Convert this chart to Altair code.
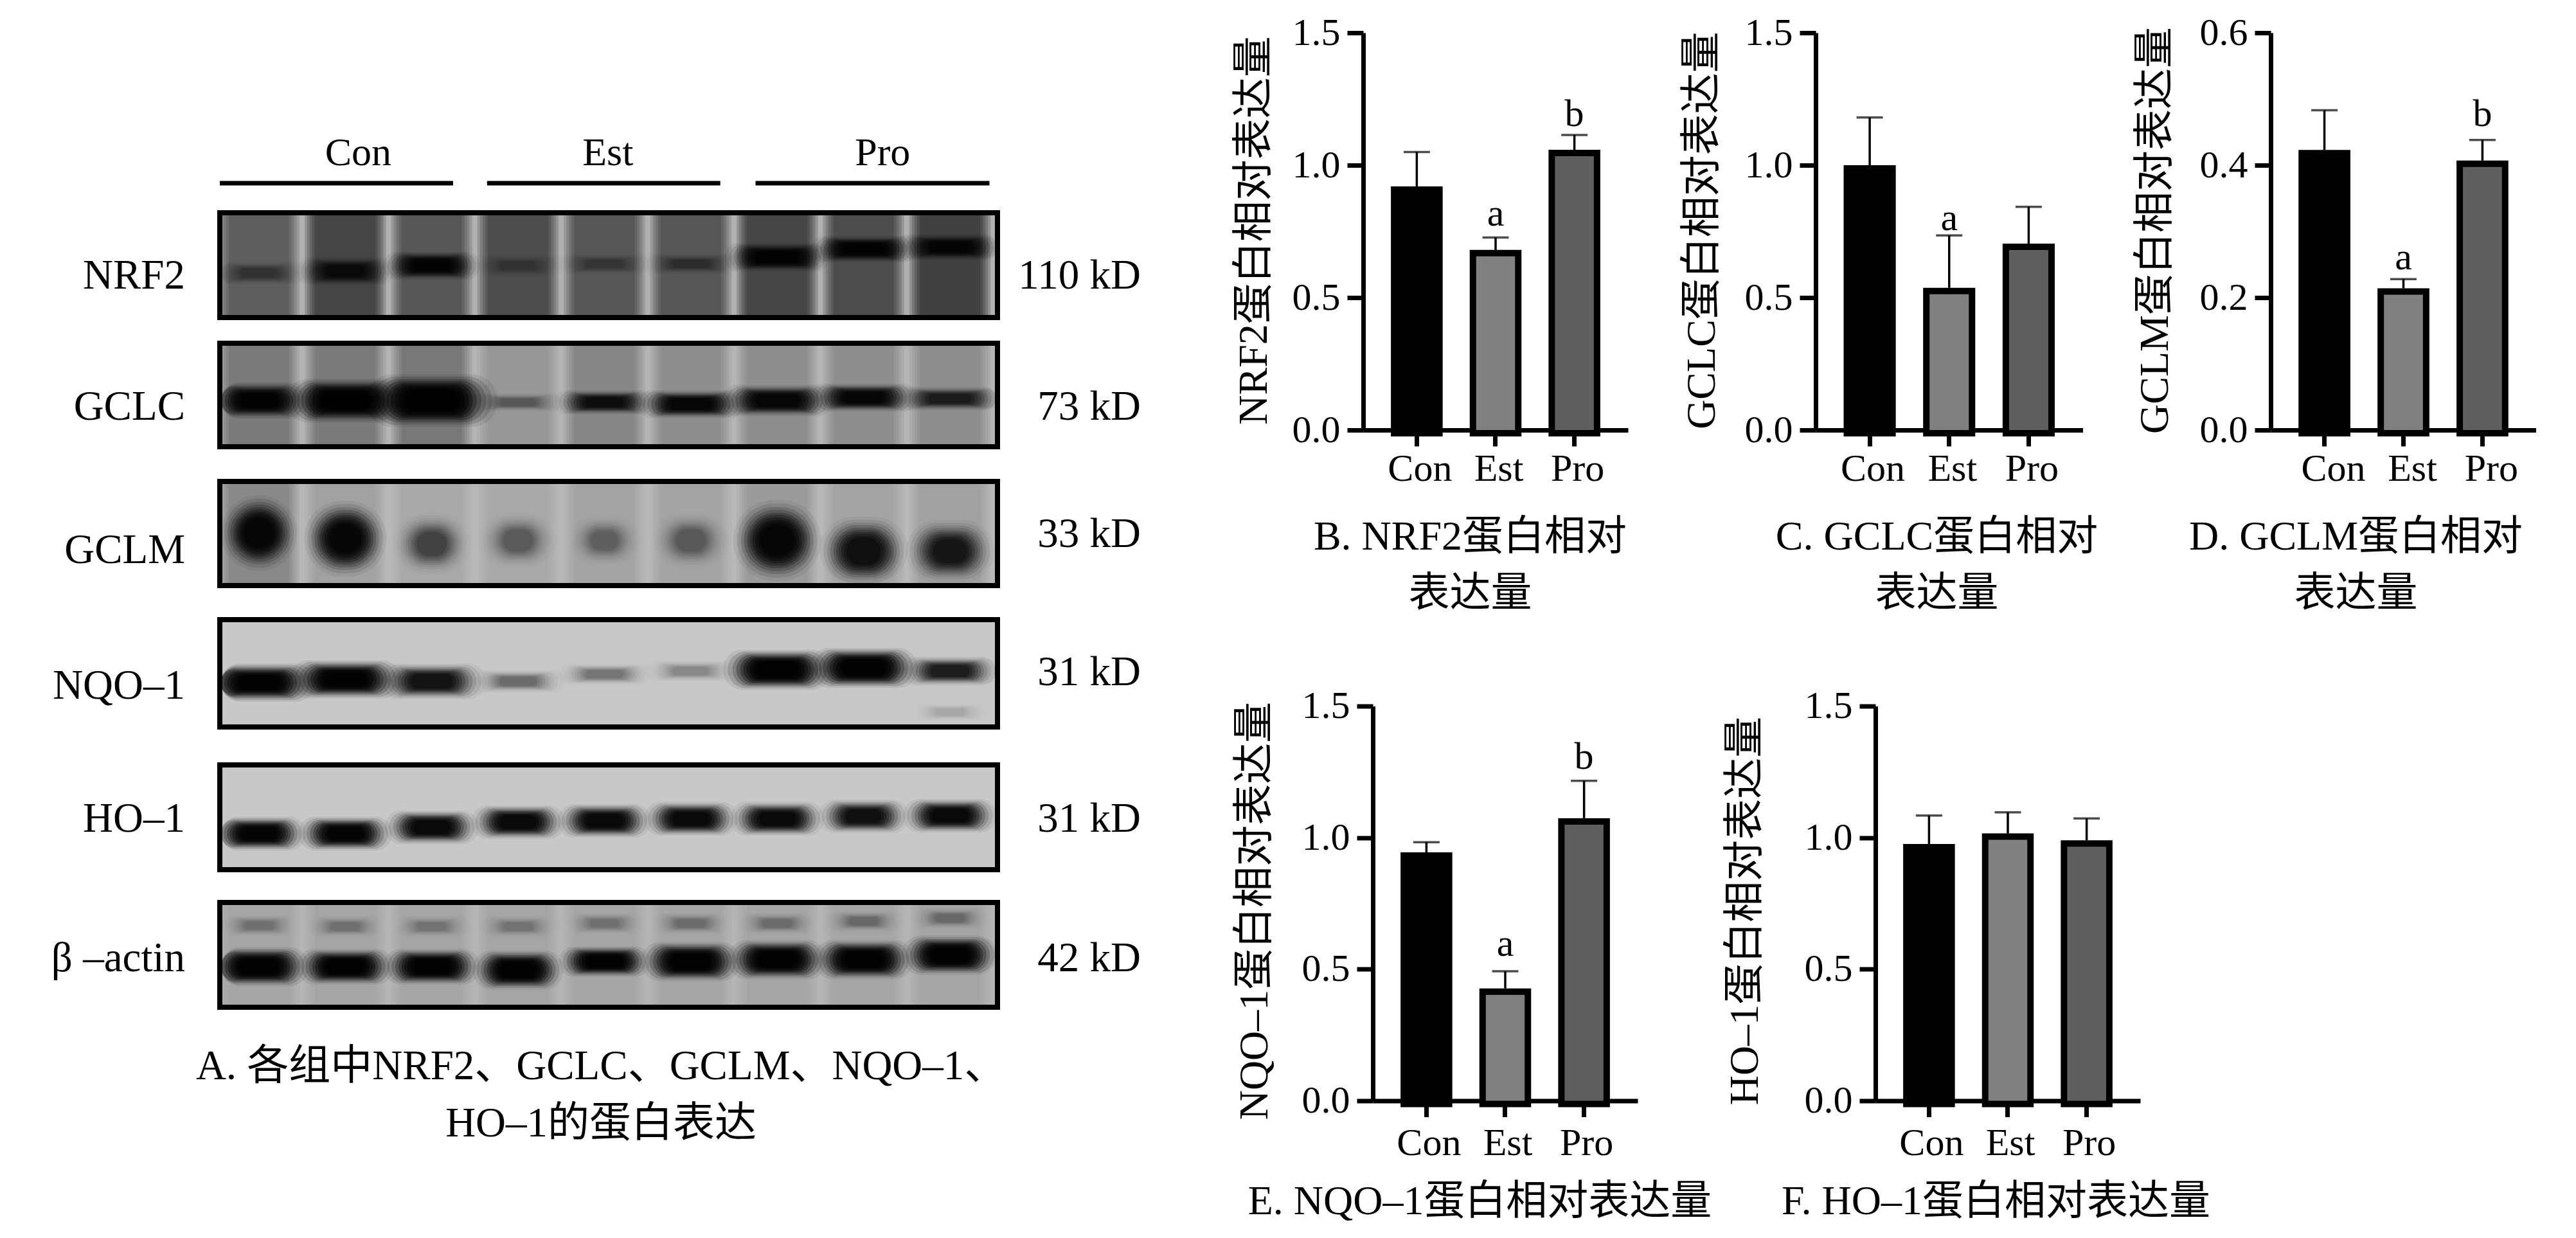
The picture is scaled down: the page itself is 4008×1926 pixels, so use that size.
import altair as alt
import pandas as pd

FONT = "Liberation Serif, Noto Sans CJK SC"
cats = ["Con", "Est", "Pro"]
bar_fill = ["#000000", "#808080", "#5f5f5f"]

# ---- bar panels: mean, upper error, letter height
nrf2_mean = [0.92, 0.68, 1.058]; nrf2_err = [1.05, 0.727, 1.114]; nrf2_let = ["", "a", "b"]; nrf2_ly = [0, 0.773, 1.148]
gclc_mean = [1.0, 0.537, 0.704]; gclc_err = [1.18, 0.735, 0.843]; gclc_let = ["", "a", ""]; gclc_ly = [0, 0.756, 0]
gclm_mean = [0.423, 0.214, 0.407]; gclm_err = [0.483, 0.228, 0.438]; gclm_let = ["", "a", "b"]; gclm_ly = [0, 0.243, 0.459]
nqo1_mean = [0.944, 0.427, 1.074]; nqo1_err = [0.983, 0.492, 1.216]; nqo1_let = ["", "a", "b"]; nqo1_ly = [0, 0.551, 1.262]
ho1_mean = [0.976, 1.016, 0.99]; ho1_err = [1.084, 1.096, 1.073]; ho1_let = ["", "", ""]; ho1_ly = [0, 0, 0]

# ---- blot rows
row_names = ["NRF2", "GCLC", "GCLM", "NQO–1", "HO–1", "β –actin"]
row_kd = ["110 kD", "73 kD", "33 kD", "31 kD", "31 kD", "42 kD"]
row_top = [330, 533, 748, 963, 1189, 1403]
row_bot = [493, 694, 910, 1130, 1352, 1566]
row_name_y = [428, 632, 855, 1066, 1273, 1490]
row_kd_y = [428, 632, 830, 1045, 1273, 1490]
row_bg = ["#b0b0b0", "#b4b4b4", "#b8b8b8", "#c8c8c8", "#c8c8c8", "#b4b4b4"]
lane_dark = [
    [.45, .6, .5, .55, .5, .5, .6, .55, .62],
    [.3, .3, .32, .15, .25, .2, .2, .2, .2],
    [.25, .12, .08, .08, .1, .1, .15, .1, .12],
    [0] * 9,
    [0] * 9,
    [.08] * 9,
]
# band tables: row, lane, position in row, half width, thickness, darkness
b_row = [0]*9 + [1]*9 + [2]*9 + [3]*9 + [3] + [4]*9 + [5]*9 + [5]*9
b_lane = list(range(9))*3 + list(range(9)) + [8] + list(range(9))*3
b_pos = [.576,.558,.505,.505,.488,.488,.424,.347,.329,
         .554,.554,.554,.571,.571,.589,.554,.525,.536,
         .496,.55,.60,.567,.567,.567,.567,.67,.67,
         .587,.557,.575,.575,.509,.479,.467,.449,.479, .862,
         .656,.656,.595,.546,.534,.515,.515,.491,.485,
         .22,.23,.23,.23,.2,.2,.2,.18,.15,
         .613,.613,.613,.644,.564,.564,.546,.546,.503]
b_half = [.33,.33,.33,.32,.33,.33,.36,.36,.36,
          .34,.40,.45,.32,.34,.36,.38,.36,.38,
          .26,.28,.26,.26,.24,.26,.30,.30,.30,
          .38,.38,.37,.33,.33,.32,.37,.37,.34, .26,
          .32,.32,.32,.32,.32,.32,.32,.31,.32,
          .26,.26,.26,.26,.26,.26,.26,.26,.26,
          .34,.33,.33,.31,.31,.34,.34,.34,.33]
b_thick = [.14,.16,.16,.13,.12,.12,.16,.15,.15,
           .21,.25,.30,.11,.14,.16,.18,.16,.14,
           .43,.43,.35,.32,.28,.32,.46,.39,.35,
           .21,.21,.2,.13,.12,.12,.22,.22,.16, .1,
           .19,.19,.19,.19,.19,.19,.19,.19,.19,
           .12,.12,.12,.12,.12,.12,.12,.12,.12,
           .22,.2,.2,.22,.17,.22,.22,.22,.22]
b_dark = [.45,.85,.95,.3,.35,.45,.95,.95,.9,
          .97,1,1,.4,.9,.95,.95,.95,.8,
          .95,.95,.6,.45,.4,.45,.95,.9,.85,
          .98,.98,.9,.45,.4,.3,1,1,.85, .15,
          .97,.97,.95,.95,.95,.95,.95,.92,.95,
          .3,.3,.28,.28,.3,.32,.32,.35,.35,
          .98,.98,.98,.98,.98,.98,.98,.98,.98]

group_names = ["Con", "Est", "Pro"]
group_x0 = [-0.4525, 2.641, 5.749]
group_x1 = [2.248, 5.341, 8.457]
group_tx = [1.15, 4.04, 7.22]
caption_a = ["A. 各组中NRF2、GCLC、GCLM、NQO–1、", "HO–1的蛋白表达"]
caption_a_x = [3.96, 3.96]
caption_a_y = [1658, 1747]

# ---- blot chart
XS = alt.Scale(domain=[-0.4525, 8.55], nice=False, zero=False)
X = alt.X("x0:Q", scale=XS, axis=None)
Y = alt.Y("y0:Q", scale=alt.Scale(domain=[50, 1900], reverse=True, nice=False, zero=False), axis=None)

panels = pd.DataFrame({"x0": -0.4525, "x1": 8.55, "y0": row_top, "y1": row_bot, "c": row_bg})
bg = alt.Chart(panels).mark_rect().encode(X, x2="x1:Q", y=Y, y2="y1:Q", fill=alt.Fill("c:N", scale=None))
border = alt.Chart(panels).mark_rect(fill=None, stroke="black", strokeWidth=8).encode(X, x2="x1:Q", y=Y, y2="y1:Q")

lane_rows = []
for r, lanes in enumerate(lane_dark):
    for k, d in enumerate(lanes):
        if d > 0:
            for hw in (.47, .44, .41, .38, .35):
                lane_rows.append({"x0": k - hw, "x1": k + hw, "y0": row_top[r], "y1": row_bot[r],
                                  "op": 1 - (1 - d) ** .2})
lanes_c = alt.Chart(pd.DataFrame(lane_rows)).mark_rect(fill="black").encode(
    X, x2="x1:Q", y=Y, y2="y1:Q", opacity=alt.Opacity("op:Q", scale=None))

spread = [1.7, 1.55, 1.4, 1.28, 1.16, 1.06, .96, .86, .76, .66]
total_w = sum(i + 1 for i in range(len(spread)))
band_rows = []
for r, k, p, hw, th, d in zip(b_row, b_lane, b_pos, b_half, b_thick, b_dark):
    top, h = row_top[r], row_bot[r] - row_top[r]
    for i, s in enumerate(spread):
        op = 1 - (1 - min(d, .985)) ** ((i + 1) / total_w)
        band_rows.append({"x0": max(-0.44, k - hw * s), "x1": min(8.54, k + hw * s),
                          "y0": max(top + 3, top + (p - th * s / 2) * h),
                          "y1": min(top + h - 3, top + (p + th * s / 2) * h), "op": op})
bands_c = alt.Chart(pd.DataFrame(band_rows)).mark_rect(fill="black", cornerRadius=120).encode(
    X, x2="x1:Q", y=Y, y2="y1:Q", opacity=alt.Opacity("op:Q", scale=None))

group_df = pd.DataFrame({"x0": group_x0, "x1": group_x1, "y0": [284] * 3, "tx": group_tx, "n": group_names})
group_rule = alt.Chart(group_df).mark_rule(color="black", strokeWidth=7).encode(X, x2="x1:Q", y=Y)
group_txt = alt.Chart(group_df.assign(y0=237)).mark_text(font=FONT, fontSize=62, baseline="middle").encode(
    x=alt.X("tx:Q", scale=XS, axis=None), y=Y, text="n:N")

name_txt = alt.Chart(pd.DataFrame({"y0": row_name_y, "n": row_names})).mark_text(
    font=FONT, fontSize=65, baseline="middle", align="right").encode(x=alt.value(-54), y=Y, text="n:N")
kd_txt = alt.Chart(pd.DataFrame({"y0": row_kd_y, "n": row_kd})).mark_text(
    font=FONT, fontSize=65, baseline="middle", align="right").encode(x=alt.value(1433), y=Y, text="n:N")
cap_txt = alt.Chart(pd.DataFrame({"x0": caption_a_x, "y0": caption_a_y, "n": caption_a})).mark_text(
    font=FONT, fontSize=65, baseline="middle", align="center").encode(X, y=Y, text="n:N")

blot = alt.layer(bg, lanes_c, bands_c, border, group_rule, group_txt, name_txt, kd_txt, cap_txt).properties(width=1210, height=1850)


def panel(mean, err, let, ly, ymax, ticks, w, h, ytitle, tx, ty, cap, cap_x, cap_y, lab_off, lab_pad=6):
    df = pd.DataFrame({"g": cats, "m": mean, "e": err, "t": let, "ly": ly})
    xs = alt.Scale(domain=cats, paddingInner=.425, paddingOuter=.3925)
    ys = alt.Scale(domain=[0, ymax], nice=False)
    xax = alt.Axis(labelAngle=0, labelFont=FONT, labelFontSize=60, labelColor="black", labelPadding=lab_pad,
                   labelOffset=lab_off, domainColor="black", domainWidth=7, tickColor="black", tickWidth=7,
                   tickSize=25, title=cap, titleFont=FONT, titleFontSize=64, titleFontWeight="normal",
                   titleColor="black", titleLineHeight=88, titleX=cap_x, titleY=cap_y, titleAlign="center",
                   titleBaseline="alphabetic", titleAnchor="start")
    yax = alt.Axis(values=ticks, format=".1f", labelFont=FONT, labelFontSize=60, labelColor="black", labelPadding=11,
                   domainColor="black", domainWidth=7, tickColor="black", tickWidth=7, tickSize=25, grid=False,
                   title=ytitle, titleFont=FONT, titleFontSize=64, titleFontWeight="normal", titleColor="black",
                   titleX=tx, titleY=ty, titleAlign="center", titleBaseline="middle", titleAnchor="start")
    x = alt.X("g:N", scale=xs, axis=xax, sort=cats)
    base = alt.Chart(df)
    rule = base.mark_rule(color="black", strokeWidth=3.5).encode(
        x=x, y=alt.Y("m:Q", scale=ys, axis=yax), y2="e:Q")
    cap_tick = base.mark_tick(color="black", size=41, thickness=3.5).encode(x=x, y=alt.Y("e:Q", scale=ys, axis=yax))
    bar = base.mark_bar(stroke="black", strokeWidth=10, yOffset=5, y2Offset=-2).encode(
        x=x, y=alt.Y("m:Q", scale=ys, axis=yax),
        fill=alt.Fill("g:N", scale=alt.Scale(domain=cats, range=bar_fill), legend=None))
    txt = base.transform_filter("datum.t != ''").mark_text(font=FONT, fontSize=60, baseline="alphabetic", color="black").encode(
        x=x, y=alt.Y("ly:Q", scale=ys, axis=yax), text="t:N")
    return alt.layer(rule, cap_tick, bar, txt).properties(width=w, height=h)


t15 = [0, .5, 1, 1.5]
B = panel(nrf2_mean, nrf2_err, nrf2_let, nrf2_ly, 1.5, t15, 412, 618, "NRF2蛋白相对表达量", -170, 307,
          ["B. NRF2蛋白相对", "表达量"], 166, 185, 5)
C = panel(gclc_mean, gclc_err, gclc_let, gclc_ly, 1.5, t15, 415.5, 618, "GCLC蛋白相对表达量", -177, 307,
          ["C. GCLC蛋白相对", "表达量"], 188, 185, 5)
D = panel(gclm_mean, gclm_err, gclm_let, gclm_ly, 0.6, [0, .2, .4, .6], 413, 618, "GCLM蛋白相对表达量", -180, 307,
          ["D. GCLM蛋白相对", "表达量"], 132, 185, 14)
E = panel(nqo1_mean, nqo1_err, nqo1_let, nqo1_ly, 1.5, t15, 412, 614, "NQO–1蛋白相对表达量", -184, 318,
          "E. NQO–1蛋白相对表达量", 166, 176, 4, 12)
F = panel(ho1_mean, ho1_err, ho1_let, ho1_ly, 1.5, t15, 412, 614, "HO–1蛋白相对表达量", -203, 318,
          "F. HO–1蛋白相对表达量", 187, 176, 4, 12)

spacer = alt.Chart(pd.DataFrame({"s": [""]})).mark_text().encode(text="s:N").properties(width=1, height=1)

row1 = alt.hconcat(B, C, D, spacing=292, bounds="flush")
row2_in = alt.hconcat(E, F, spacing=370, bounds="flush")
row2 = alt.hconcat(spacer, row2_in, spacing=14, bounds="flush")
right = alt.vconcat(row1, row2, spacing=1047.5, bounds="flush")

chart = alt.hconcat(blot, right, spacing=569, bounds="flush", padding={"left": 71, "top": 13, "right": 0, "bottom": 0},
                    background="white").configure_view(stroke=None)

chart.save("out.html", embed_options={"renderer": "svg", "actions": False})
